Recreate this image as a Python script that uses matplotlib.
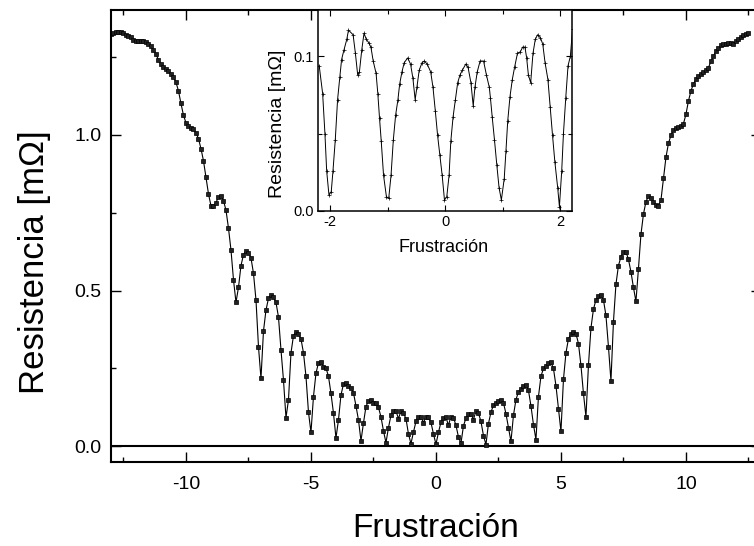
import numpy as np
import matplotlib.pyplot as plt
from matplotlib.ticker import MultipleLocator

plt.rcParams['font.family'] = ['Liberation Sans', 'DejaVu Sans']
plt.rcParams['axes.unicode_minus'] = False

# main curve: resistance read every 0.1 in frustration, from -13.0 to 12.5
res_left = [
    1.322, 1.326, 1.329, 1.330, 1.330, 1.327, 1.321, 1.316, 1.312, 1.305,
    1.300, 1.300, 1.301, 1.300, 1.297, 1.292, 1.284, 1.272, 1.258, 1.240,
    1.226, 1.217, 1.210, 1.203, 1.195, 1.185, 1.168, 1.140, 1.100, 1.062,
    1.038, 1.028, 1.022, 1.017, 1.006, 0.987, 0.955, 0.916, 0.863, 0.810,
    0.772, 0.770, 0.782, 0.800, 0.803, 0.788, 0.758, 0.700, 0.630, 0.535,
    0.462, 0.510, 0.580, 0.615, 0.628, 0.622, 0.605, 0.555, 0.470, 0.320,
    0.218, 0.370, 0.437, 0.475, 0.486, 0.478, 0.462, 0.415, 0.310, 0.213,
    0.092, 0.149, 0.300, 0.355, 0.368, 0.360, 0.345, 0.300, 0.225, 0.110,
    0.045, 0.160, 0.235, 0.268, 0.270, 0.256, 0.252, 0.225, 0.170, 0.107,
    0.027, 0.085, 0.165, 0.200, 0.202, 0.193, 0.188, 0.172, 0.130, 0.085,
    0.018, 0.075, 0.128, 0.146, 0.148, 0.140, 0.138, 0.125, 0.095, 0.050,
    0.012, 0.060, 0.100, 0.115, 0.114, 0.089, 0.114, 0.107, 0.089, 0.040,
    0.009, 0.046, 0.080, 0.096, 0.095, 0.076, 0.096, 0.094, 0.077, 0.040,
]
res_right = [
    0.007, 0.045, 0.078, 0.091, 0.093, 0.068, 0.096, 0.092, 0.068, 0.030,
    0.010, 0.066, 0.091, 0.103, 0.104, 0.086, 0.114, 0.107, 0.080, 0.035,
    0.006, 0.073, 0.110, 0.132, 0.140, 0.145, 0.150, 0.140, 0.105, 0.060,
    0.016, 0.100, 0.150, 0.175, 0.185, 0.195, 0.198, 0.180, 0.130, 0.070,
    0.022, 0.160, 0.225, 0.250, 0.258, 0.268, 0.270, 0.250, 0.195, 0.120,
    0.048, 0.215, 0.300, 0.345, 0.360, 0.368, 0.362, 0.330, 0.260, 0.170,
    0.095, 0.260, 0.380, 0.440, 0.470, 0.482, 0.485, 0.470, 0.420, 0.320,
    0.210, 0.400, 0.520, 0.580, 0.608, 0.625, 0.625, 0.600, 0.560, 0.510,
    0.465, 0.570, 0.680, 0.745, 0.785, 0.803, 0.798, 0.783, 0.775, 0.770,
    0.790, 0.860, 0.927, 0.972, 0.998, 1.015, 1.022, 1.024, 1.028, 1.035,
    1.065, 1.108, 1.140, 1.163, 1.177, 1.188, 1.196, 1.200, 1.206, 1.215,
    1.235, 1.252, 1.267, 1.278, 1.286, 1.290, 1.292, 1.294, 1.294, 1.292,
    1.300, 1.308, 1.314, 1.320, 1.324, 1.325,
]
frus = np.round(np.arange(-130, 126) * 0.1, 1)
res = np.array(res_left + res_right)

# inset: central region
frus_in = [-2.19, -2.13, -2.09, -2.06, -2.02, -1.98, -1.95, -1.91, -1.87, -1.83,
           -1.80, -1.76, -1.71, -1.68, -1.60, -1.56, -1.52, -1.49, -1.45, -1.41,
           -1.37, -1.33, -1.29, -1.25, -1.20, -1.17, -1.14, -1.11, -1.07, -1.02,
           -0.98, -0.94, -0.90, -0.86, -0.82, -0.79, -0.75, -0.71, -0.65, -0.60,
           -0.56, -0.52, -0.49, -0.45, -0.40, -0.36, -0.31, -0.25, -0.21, -0.17,
           -0.13, -0.09, -0.05, -0.01, 0.03, 0.07, 0.10, 0.14, 0.18, 0.22,
           0.26, 0.30, 0.36, 0.40, 0.45, 0.49, 0.52, 0.56, 0.61, 0.67,
           0.72, 0.77, 0.79, 0.82, 0.86, 0.90, 0.94, 0.98, 1.03, 1.06,
           1.09, 1.13, 1.17, 1.21, 1.26, 1.31, 1.35, 1.39, 1.42, 1.45,
           1.49, 1.53, 1.57, 1.61, 1.66, 1.70, 1.74, 1.79, 1.83, 1.87,
           1.91, 1.96, 1.99, 2.03, 2.06, 2.10, 2.14, 2.18, 2.22]
res_in = [0.094, 0.076, 0.050, 0.026, 0.0103, 0.0125, 0.026, 0.046, 0.072, 0.087,
          0.098, 0.104, 0.111, 0.117, 0.114, 0.102, 0.088, 0.090, 0.104, 0.115,
          0.111, 0.109, 0.106, 0.097, 0.089, 0.076, 0.060, 0.045, 0.023, 0.0092,
          0.0082, 0.023, 0.046, 0.062, 0.072, 0.082, 0.090, 0.096, 0.099, 0.095,
          0.086, 0.072, 0.080, 0.091, 0.096, 0.097, 0.095, 0.090, 0.080, 0.065,
          0.049, 0.036, 0.023, 0.0071, 0.0092, 0.023, 0.045, 0.061, 0.072, 0.083,
          0.088, 0.091, 0.095, 0.093, 0.083, 0.068, 0.080, 0.090, 0.097, 0.097,
          0.088, 0.080, 0.073, 0.061, 0.046, 0.030, 0.015, 0.0071, 0.021, 0.039,
          0.058, 0.074, 0.085, 0.093, 0.102, 0.103, 0.106, 0.106, 0.099, 0.088,
          0.083, 0.102, 0.111, 0.114, 0.112, 0.108, 0.096, 0.085, 0.067, 0.049,
          0.032, 0.015, 0.0028, 0.026, 0.050, 0.073, 0.094, 0.100, 0.118]

fig = plt.figure(figsize=(7.54, 5.46), dpi=100)
ax = fig.add_axes([0.1472, 0.1538, 0.862, 0.828])

ax.plot(frus, res, color='black', lw=0.8, marker='s', ms=2.8,
        mfc='#222222', mec='black', mew=0.5)
ax.axhline(0, color='black', lw=1.5, zorder=1)

ax.set_xlim(-13, 13)
ax.set_ylim(-0.05, 1.4)
ax.xaxis.set_major_locator(MultipleLocator(5))
ax.xaxis.set_minor_locator(MultipleLocator(2.5))
ax.yaxis.set_major_locator(MultipleLocator(0.5))
ax.yaxis.set_minor_locator(MultipleLocator(0.25))
ax.tick_params(which='both', direction='in', top=True, right=True, width=1.0)
ax.tick_params(which='major', length=7, labelsize=14)
ax.tick_params(axis='x', which='major', pad=10)
ax.tick_params(axis='y', which='major', pad=7)
ax.tick_params(which='minor', length=3.6)
for s in ax.spines.values():
    s.set_linewidth(1.5)
ax.set_xlabel('Frustración', fontsize=24, va='center')
ax.set_ylabel('Resistencia [mΩ]', fontsize=25, va='center')
ax.xaxis.set_label_coords(0.5, -0.146)
ax.yaxis.set_label_coords(-0.117, 0.442)

# inset
axi = fig.add_axes([0.4218, 0.6136, 0.3369, 0.368])
axi.plot(frus_in, res_in, color='black', lw=0.7, marker='+', ms=3, mew=0.5)
axi.set_xlim(-2.21, 2.21)
axi.set_ylim(0, 0.13)
axi.xaxis.set_major_locator(MultipleLocator(2))
axi.xaxis.set_minor_locator(MultipleLocator(1))
axi.yaxis.set_major_locator(MultipleLocator(0.1))
axi.yaxis.set_minor_locator(MultipleLocator(0.05))
axi.tick_params(which='both', direction='in', top=True, right=True, width=0.8)
axi.tick_params(which='major', length=4, labelsize=10.5, pad=3)
axi.tick_params(which='minor', length=3)
for s in axi.spines.values():
    s.set_linewidth(1.1)
axi.set_xlabel('Frustración', fontsize=13, va='center')
axi.set_ylabel('Resistencia [mΩ]', fontsize=14, va='center')
axi.xaxis.set_label_coords(0.496, -0.184)
axi.yaxis.set_label_coords(-0.161, 0.435)

fig.savefig('out.png', dpi=100)
